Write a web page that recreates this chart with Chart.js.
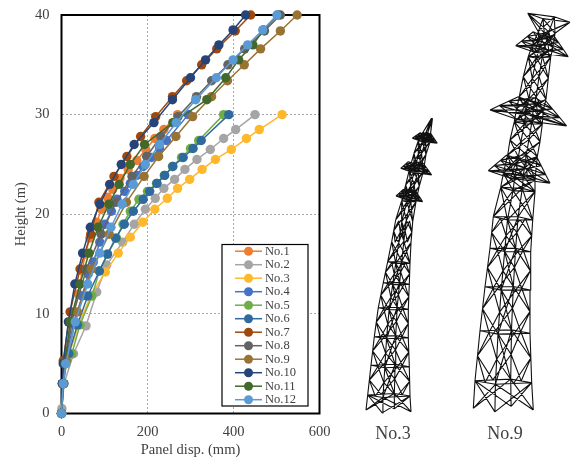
<!DOCTYPE html>
<html>
<head>
<meta charset="utf-8">
<script src="https://cdn.jsdelivr.net/npm/chart.js@4/dist/chart.umd.js"></script>
<style>
html,body{margin:0;padding:0;background:#fff;}
#wrap{position:relative;width:573px;height:459px;overflow:hidden;}
canvas{position:absolute;left:0;top:0;}
.cap{position:absolute;top:423px;font:18px "Liberation Serif",serif;color:#404040;transform:translateX(-50%);}
</style>
</head>
<body>
<div id="wrap">
<canvas id="towers" width="573" height="459"></canvas>
<canvas id="main" width="573" height="459"></canvas>
<div class="cap" style="left:393px">No.3</div>
<div class="cap" style="left:505px">No.9</div>
</div>
<script>
const seriesNames = ['No.1','No.2','No.3','No.4','No.5','No.6','No.7','No.8','No.9','No.10','No.11','No.12'];
const seriesColors = ['#ED7D31','#A5A5A5','#FDB82C','#4472C4','#70AD47','#2F6A9E','#9E480E','#636363','#997333','#264478','#43682B','#5B9BD5'];

const h1 = [0,3,5.2,9,12,14.3,16,17.6,19.2,20.5,21.7,22.5,23.6,24.5,25.4,26.5,27.6,28.5,30];
const d1 = [0,2,6,22,39,48,55,66,82,93,107,119,136,155,175,196,217,238,270];
const h2 = [0,0.5,3,6,8.8,12.2,14.9,17.2,19,20.5,21.6,22.6,23.5,24.5,25.5,26.5,27.6,28.5,30];
const d2 = [0,1,6,28,57,82,105,142,169,195,218,238,263,287,315,346,377,405,450];
const h3 = [0,3,5,8.9,11.8,14.2,16.1,17.7,19.2,20.5,21.6,22.6,23.5,24.5,25.5,26.5,27.6,28.5,30];
const d3 = [0,4,10,40,68,102,132,160,189,217,246,270,298,327,358,395,430,460,513];
const h4 = [0,3,5,9,11.8,14,15.2,17.2,19,20.3,21.5,22.3,23.1,23.9,24.8,25.7,26.6,27.4,30];
const d4 = [0,3,7,28,48,62,74,89,101,116,129,147,160,175,190,209,228,244,295];
const h56 = [0,3,5,6,8.9,11.8,14.3,16,17.6,19,20.3,21.5,22.3,23.1,23.9,24.8,25.7,26.6,27.4,30];
const d5 = [0,4,10,24,43,71,88,107,128,143,160,180,200,221,239,258,279,300,319,377];
const d6 = [0,3,5,17,37,61,88,107,126,146,167,190,205,222,240,259,283,306,325,389];
const h789 = [0,3,5.3,10.2,14.5,18,21.2,23.8,25.8,27.8,29.8,31.8,33.4,35,36.6,38.4,40];
const d7 = [0,2,4,20,43,68,87,122,152,184,219,258,291,326,361,404,440];
const d8 = [0,4,8,29,58,92,127,164,198,231,271,314,349,387,426,472,509];
const d9 = [0,5,12,37,70,111,151,192,226,266,305,349,386,425,463,509,548];
const h101112 = [0,3,5,9.2,13,16.1,18.7,21,23,25,27,29.2,31.5,33.7,35.5,37,38.5,40];
const d10 = [0,2,4,16,31,49,67,89,112,139,169,215,258,300,335,366,399,428];
const d11 = [0,5,8,20,43,64,85,110,134,160,193,259,338,382,412,445,470,503];
const d12 = [0,4,10,32,61,89,115,141,167,195,228,267,312,360,399,433,468,501];

const seriesHeights = [h1,h2,h3,h4,h56,h56,h789,h789,h789,h101112,h101112,h101112];
const seriesDisp = [d1,d2,d3,d4,d5,d6,d7,d8,d9,d10,d11,d12];

const xTicksMax = 600, yTicksMax = 40;

/* deformed tower frames: rings [left x, right x, left level, right level, ring bar] */
const tower3Rings = [
 [366,411,410,411.7,0],[367.7,410,395,396,1],[371,409.3,365.3,366.7,1],[374.3,408.3,336.7,337.7,1],
 [378.3,408.3,307.7,309.3,1],[383.3,409.3,282.7,284.3,1],[387.7,410,261.7,263.3,1],[391.7,411,241.7,242.7,0],
 [395.7,412.7,220,221.7,0],[401.7,416,200.7,201.7,1],[405.7,419.3,185,186,0],[409.3,423.3,170,171.7,1],
 [414,426,153.3,154.3,0],[418.3,430,140.7,142,1],[423.3,430.7,131.7,132.7,0],[431.5,432.5,118.3,118.3,0]
];
/* cross-arms: [base left x, base right x, base left level, base right level, top left x, top right x, top left level, top right level] */
const tower3Arms = [
 [396,422.7,196,201.7,403.3,415,189.3,190],
 [400.7,431.7,168.3,175,408.3,423.3,161.7,163.3],
 [412.3,437.3,138.3,143.3,420,430.7,132.7,133.3]
];
const tower9Rings = [
 [473.3,533.3,408.3,410,0],[475,531.7,380.7,382.7,1],[480,530,330.7,333.3,1],[485,530,286.7,290,1],
 [490,530.7,248.3,251.7,1],[493.3,532.7,216.7,220,1],[500.7,535,187.3,191.7,1],[503.3,535,173.3,180,1],
 [507.7,537.3,155,156.7,0],[510,540,140,141.7,0],[514.3,542.3,121.7,124,1],[516.7,543.3,108.3,110,0],
 [519.3,546,96.7,99.3,0],[523.3,548.3,76.7,78.3,0],[528.3,550.7,56.7,57,1],[531.7,552.7,46.7,48.3,0],
 [538.3,555,31.7,33.3,0],[527.7,570,13.3,22.3,1]
];
const tower9Arms = [
 [488.3,550,170.7,183.3,506.7,536.7,155,156.7],
 [490,566.7,110,126,518.3,545,96.7,100],
 [515.7,568.3,45.7,56.7,533.3,553.3,31.7,35]
];

function nodes(r){
  const w=r[1]-r[0], s=(r[3]-r[2]);
  const d=w*0.05;
  return [
    {x:r[0],y:r[2]},
    {x:r[0]+w*0.36,y:r[2]+s*0.36+d},
    {x:r[1],y:r[3]},
    {x:r[0]+w*0.63,y:r[2]+s*0.63-d}
  ];
}
const mid=(a,b)=>({x:(a.x+b.x)/2,y:(a.y+b.y)/2});
function lattice(rings,minDiamond){
  const pts=[], gap={x:NaN,y:NaN};
  const seg=(a,b)=>{pts.push(a,b,gap);};
  const ns=rings.map(nodes);
  rings.forEach((r,i)=>{
    const n=ns[i];
    if(r[4]){for(let k=0;k<4;k++)seg(n[k],n[(k+1)%4]);}
    if(i<rings.length-1){
      const u=ns[i+1];
      const big=Math.abs(n[0].y-u[0].y)>minDiamond;
      if(big){seg(n[1],u[3]);seg(n[3],u[1]);}
      for(let k=0;k<4;k++){
        const k2=(k+1)%4;
        seg(n[k],u[k]);
        if(big){
          const lowM=mid(n[k],n[k2]),upM=mid(u[k],u[k2]);
          const a=mid(n[k],u[k]),b=mid(n[k2],u[k2]);
          seg(a,lowM);seg(a,upM);seg(b,lowM);seg(b,upM);
        } else {
          seg(n[k],u[k2]);
          seg(n[k2],u[k]);
        }
      }
    }
  });
  return pts;
}
function armLattice(arms){
  let pts=[];
  arms.forEach(a=>{
    const t=f=>[a[0]+(a[4]-a[0])*f,a[1]+(a[5]-a[1])*f,a[2]+(a[6]-a[2])*f,a[3]+(a[7]-a[3])*f,f===0?1:0];
    pts=pts.concat(lattice([t(0),t(0.33),t(0.66),t(1)],999));
  });
  return pts;
}

new Chart(document.getElementById('towers'),{
  type:'scatter',
  data:{datasets:[
    {label:'Tower No.3',data:lattice(tower3Rings,20).concat(armLattice(tower3Arms))},
    {label:'Tower No.9',data:lattice(tower9Rings,30).concat(armLattice(tower9Arms))}
  ].map(d=>Object.assign(d,{showLine:true,spanGaps:false,borderColor:'#111',borderWidth:1.1,pointRadius:0,clip:false}))},
  options:{
    responsive:false,animation:false,
    layout:{padding:0},
    plugins:{legend:{display:false},tooltip:{enabled:false}},
    scales:{
      x:{type:'linear',display:false,min:0,max:573},
      y:{type:'linear',display:false,min:0,max:459,reverse:true}
    }
  }
});

const serif='"Liberation Serif", serif';
const inkCol='#404040';

const framePlugin={
  id:'frame',
  beforeDatasetsDraw(c){
    const a=c.chartArea,x=c.ctx;
    x.save();x.strokeStyle='#000';x.lineWidth=2;
    x.strokeRect(a.left,a.top,a.right-a.left,a.bottom-a.top);
    x.restore();
  }
};
const boxPlugin={
  id:'boxLegend',
  afterDatasetsDraw(c){
    const x=c.ctx;
    const X0=222,Y0=244.5,W=86,H=161.5;
    x.save();
    x.fillStyle='#fff';x.fillRect(X0,Y0,W,H);
    x.strokeStyle='#000';x.lineWidth=1.2;x.strokeRect(X0,Y0,W,H);
    x.font='12.5px '+serif;x.textBaseline='middle';x.textAlign='left';
    seriesNames.forEach((n,i)=>{
      const y=Y0+6.7+i*13.5,col=seriesColors[i];
      x.strokeStyle=col;x.lineWidth=1.5;
      x.beginPath();x.moveTo(235,y);x.lineTo(262,y);x.stroke();
      x.fillStyle=col;x.beginPath();x.arc(248.5,y,4.5,0,Math.PI*2);x.fill();
      x.fillStyle=inkCol;x.fillText(n,265,y+0.5);
    });
    x.restore();
  }
};

new Chart(document.getElementById('main'),{
  type:'scatter',
  data:{datasets:seriesNames.map((n,i)=>({
    label:n,
    data:seriesDisp[i].map((v,k)=>({x:v,y:seriesHeights[i][k]})),
    showLine:true,
    borderColor:seriesColors[i],
    backgroundColor:seriesColors[i],
    borderWidth:1.5,
    pointRadius:4.7,
    pointBorderWidth:0,
    clip:false,
    order:seriesNames.length-i
  }))},
  options:{
    responsive:false,animation:false,
    layout:{padding:{left:12,right:253.5,top:15,bottom:0}},
    plugins:{legend:{display:false},tooltip:{enabled:false}},
    scales:{
      x:{
        type:'linear',min:0,max:xTicksMax,
        afterFit(s){s.height=45.5;s.paddingLeft=0;s.paddingRight=0;},
        border:{display:false,dash:[2,2]},
        grid:{color:'#a8a8a8',drawTicks:false},
        ticks:{stepSize:200,padding:10,maxRotation:0,color:inkCol,font:{family:serif,size:14.5}},
        title:{display:true,text:'Panel disp. (mm)',color:inkCol,font:{family:serif,size:14.5},padding:{top:0,bottom:0}}
      },
      y:{
        type:'linear',min:0,max:yTicksMax,
        afterFit(s){s.width=49.5;s.paddingTop=0;s.paddingBottom=0;},
        border:{display:false,dash:[2,2]},
        grid:{color:'#a8a8a8',drawTicks:false},
        ticks:{stepSize:10,padding:12,color:inkCol,font:{family:serif,size:14.5}},
        title:{display:true,text:'Height (m)',color:inkCol,font:{family:serif,size:14.5},padding:{top:0,bottom:0}}
      }
    }
  },
  plugins:[framePlugin,boxPlugin]
});
</script>
</body>
</html>
